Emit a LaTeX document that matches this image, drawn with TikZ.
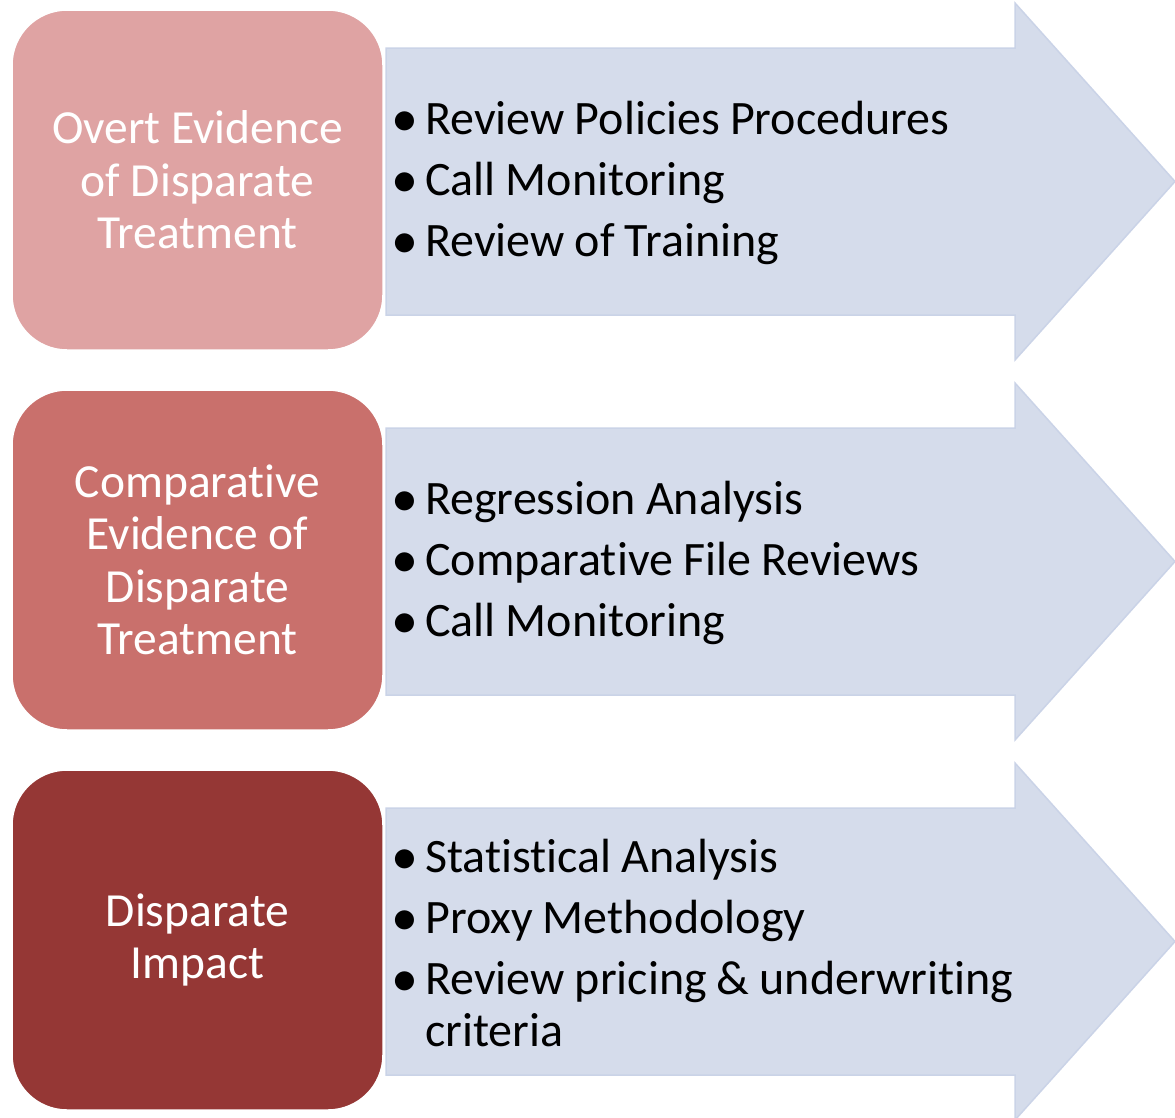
\documentclass[tikz,border=0pt]{standalone}
\usepackage{fontspec}
\setmainfont{Carlito}[Ligatures={NoCommon}]
\definecolor{paleRed}{HTML}{DFA3A3}
\definecolor{midRed}{HTML}{C9706C}
\definecolor{darkRed}{HTML}{953735}
\definecolor{arrowFill}{HTML}{D5DCEB}
\definecolor{arrowLine}{HTML}{CAD3E7}
% one bulleted entry with a hanging indent
\newcommand{\bigdot}{\raisebox{-1.5pt}{\fontsize{54}{52}\selectfont\textbullet}}
\newcommand{\bitem}[1]{\par\hangindent=33pt\hangafter=1\noindent\hbox to 33pt{\hskip-1pt\bigdot\hss}#1}
\newcommand{\listsetup}{\parskip=9pt\spaceskip=0.21em\xspaceskip=0.21em\relax}
\begin{document}
\begin{tikzpicture}[x=1pt,y=-1pt,
  catbox/.style={rounded corners=55pt, draw=white, line width=1.5pt,
    minimum width=371pt, minimum height=340pt, inner sep=0pt,
    text=white, align=center, font=\fontsize{47.5}{52.5}\selectfont},
  bigarrow/.style={fill=arrowFill, draw=arrowLine, line width=1.5pt},
  bullets/.style={anchor=west, inner sep=0pt, text width=700pt,
    font=\fontsize{48}{52}\selectfont}]
\useasboundingbox (0,0) rectangle (1175,1117);
\begin{scope}
\clip (0,0) rectangle (1175,1117);
\foreach \n/\dy in {1/0,2/380,3/760}{
  \draw[bigarrow] (386,48+\dy) -- (1015,48+\dy) -- (1015,3+\dy) -- (1175,181.5+\dy)
     -- (1015,360+\dy) -- (1015,315+\dy) -- (386,315+\dy) -- cycle;
  \coordinate (a\n) at (392,169.5+\dy);
}
\end{scope}
\node[catbox, fill=paleRed] (b1) at (197.5,180) {Overt Evidence\\of Disparate\\Treatment};
\node[catbox, fill=midRed] (b2) at (197.5,560) {Comparative\\Evidence of\\Disparate\\Treatment};
\node[catbox, fill=darkRed] (b3) at (197.5,940) {Disparate\\Impact};
\node[bullets] (l1) at (a1) {\listsetup
  \bitem{Review Policies Procedures}\bitem{Call Monitoring}\bitem{Review of Training}\par};
\node[bullets] (l2) at (a2) {\listsetup
  \bitem{Regression Analysis}\bitem{Comparative File Reviews}\bitem{Call Monitoring}\par};
\node[bullets] (l3) at (a3) {\listsetup
  \bitem{Statistical Analysis}\bitem{Proxy Methodology}\bitem{Review pricing \& underwriting\newline criteria}\par};
\end{tikzpicture}
\end{document}
